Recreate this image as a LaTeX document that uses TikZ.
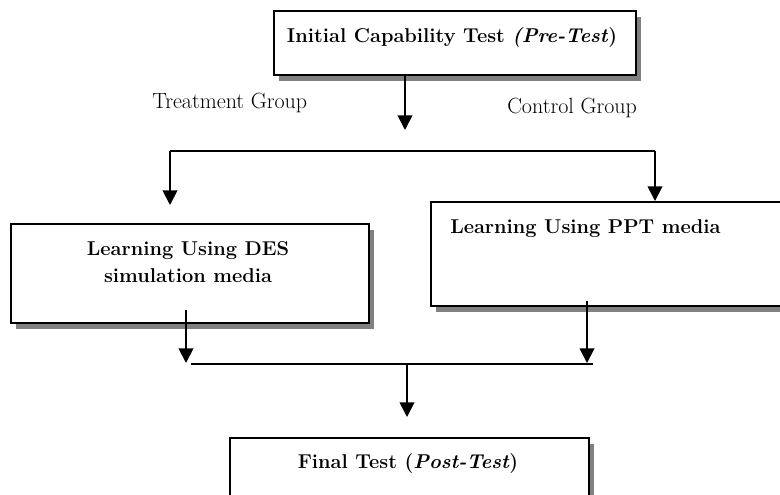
\documentclass[tikz,border=0pt]{standalone}
\usepackage{amsmath}
\usepackage{tikz}
\usetikzlibrary{arrows.meta,shadows}

\tikzset{
  box/.style={draw=black, line width=1.5pt, fill=white, inner sep=0pt, anchor=north west,
    drop shadow={shadow xshift=3.5pt, shadow yshift=-4.5pt, fill=black!50, opacity=1}},
  boxtext/.style={font=\bfseries\fontsize{15}{20}\selectfont, inner sep=0pt},
  grouptext/.style={font=\fontsize{16.5}{19}\selectfont, inner sep=0pt, anchor=base west},
  link/.style={line width=1.4pt},
  arr/.style={link, -{Triangle[width=11pt,length=11pt]}}
}

\begin{document}
\begin{tikzpicture}[x=0.75pt, y=-0.75pt]
  \useasboundingbox (0,0) rectangle (780,494);
  \clip (0,0) rectangle (780,494);
  % boxes
  \node[box, minimum width=271.5pt, minimum height=48pt] (pre) at (273,10) {};
  \node[box, minimum width=268.5pt, minimum height=74.25pt] (des) at (10,223) {};
  \node[box, minimum width=270pt, minimum height=78pt] (ppt) at (430,201) {};
  \node[box, minimum width=269.25pt, minimum height=60pt] (post) at (229,437) {};
  % box texts
  \node[boxtext, anchor=base] (pretext) at (452,42) {Initial Capability Test \textit{(Pre-Test})};
  \node[boxtext, align=center] (destext) at (188,262) {Learning Using DES\\simulation media};
  \node[boxtext, anchor=base west] (ppttext) at (450,233) {Learning Using PPT media};
  \node[boxtext, anchor=base] (posttext) at (408,468) {Final Test (\textit{Post-Test})};
  \node[grouptext] (treat) at (152,108) {Treatment Group};
  \node[grouptext] (ctrl) at (507,113) {Control Group};
  % split into the two groups
  \coordinate (pretip) at (405,130);
  \coordinate (lcorner) at (170,151);
  \coordinate (rcorner) at (655,151);
  \coordinate (destip) at (170,205);
  \draw[arr] (pre.south -| pretip) -- (pretip);
  \draw[link] (lcorner) -- (rcorner);
  \draw[arr] (lcorner) -- (destip);
  \draw[arr] (rcorner) -- (rcorner |- ppt.north);
  % join towards the post-test
  \coordinate (desout) at (186,310);
  \coordinate (desjoin) at (186,363);
  \coordinate (pptout) at (587,301);
  \coordinate (pptjoin) at (587,363);
  \coordinate (jleft) at (191,364);
  \coordinate (jright) at (593,364);
  \coordinate (jmid) at (407,364);
  \coordinate (posttip) at (407,417);
  \draw[arr] (desout) -- (desjoin);
  \draw[arr] (pptout) -- (pptjoin);
  \draw[link] (jleft) -- (jright);
  \draw[arr] (jmid) -- (posttip);
\end{tikzpicture}
\end{document}
